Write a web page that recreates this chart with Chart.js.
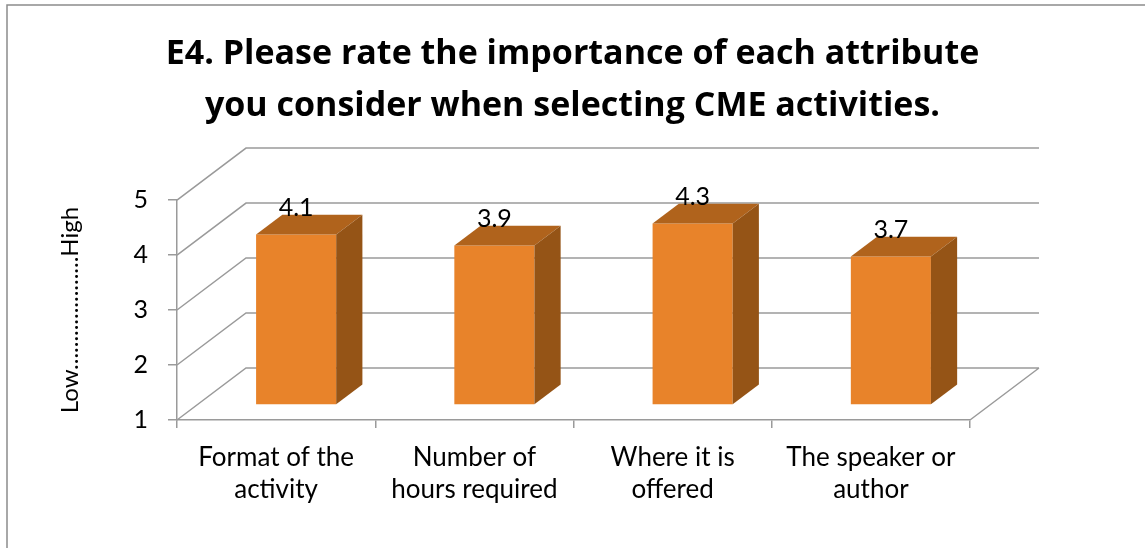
<!DOCTYPE html>
<html>
<head>
<meta charset="utf-8">
<script src="https://cdn.jsdelivr.net/npm/chart.js@4.4.1/dist/chart.umd.min.js"></script>
<style>
  html, body { margin: 0; padding: 0; background: #fff; }
</style>
</head>
<body>
<canvas id="importanceChart" width="1145" height="548"></canvas>
<script>
// data
const categories = [
    ['Format of the', 'activity'],
    ['Number of', 'hours required'],
    ['Where it is', 'offered'],
    ['The speaker or', 'author']
];
const ratings = [4.1, 3.9, 4.3, 3.7];
const yTickValues = [1, 2, 3, 4, 5];
const titleLines = [
    'E4. Please rate the importance of each attribute',
    'you consider when selecting CME activities.'
];
const yTitle = 'Low....................High';

// 3d look
const DEPTH_X = 69, DEPTH_Y = -52;      // floor depth
const BAR_FRONT = 0.29, BAR_BACK = 0.67; // where the bar sits inside the depth
const lineColor = '#9a9a9a';
const frontColor = '#e8832a';
const topColor = '#b0631c';
const sideColor = '#955416';

const box3d = {
    id: 'box3d',
    beforeDraw(chart) {
        // outer frame, only top and left edges show
        const ctx = chart.ctx;
        ctx.save();
        ctx.strokeStyle = '#8c8c8c';
        ctx.lineWidth = 1.5;
        ctx.beginPath();
        ctx.moveTo(7, chart.height);
        ctx.lineTo(7, 5);
        ctx.lineTo(chart.width, 5);
        ctx.stroke();
        ctx.restore();
    },
    beforeDatasetsDraw(chart) {
        const { ctx, chartArea: a, scales: { y } } = chart;
        ctx.save();
        ctx.strokeStyle = lineColor;
        ctx.lineWidth = 1.5;
        ctx.beginPath();
        y.ticks.forEach(t => {
            const py = y.getPixelForValue(t.value);
            ctx.moveTo(a.left, py);
            ctx.lineTo(a.left + DEPTH_X, py + DEPTH_Y);
            ctx.lineTo(a.right + DEPTH_X, py + DEPTH_Y);
        });
        ctx.moveTo(a.right, a.bottom);
        ctx.lineTo(a.right + DEPTH_X, a.bottom + DEPTH_Y);
        ctx.stroke();
        ctx.restore();
    },
    beforeDatasetDraw(chart) {
        chart.ctx.save();
        chart.ctx.translate(DEPTH_X * BAR_FRONT, DEPTH_Y * BAR_FRONT);
    },
    afterDatasetDraw(chart, args) {
        const ctx = chart.ctx;
        const bx = DEPTH_X * (BAR_BACK - BAR_FRONT);
        const by = DEPTH_Y * (BAR_BACK - BAR_FRONT);
        args.meta.data.forEach((bar, i) => {
            const { x, y, base, width } = bar.getProps(['x', 'y', 'base', 'width'], true);
            const l = x - width / 2, r = x + width / 2;

            ctx.fillStyle = topColor;
            ctx.beginPath();
            ctx.moveTo(l, y);
            ctx.lineTo(r, y);
            ctx.lineTo(r + bx, y + by);
            ctx.lineTo(l + bx, y + by);
            ctx.closePath();
            ctx.fill();

            ctx.fillStyle = sideColor;
            ctx.beginPath();
            ctx.moveTo(r, y);
            ctx.lineTo(r + bx, y + by);
            ctx.lineTo(r + bx, base + by);
            ctx.lineTo(r, base);
            ctx.closePath();
            ctx.fill();

            ctx.fillStyle = '#000';
            ctx.font = '25px Lato';
            ctx.textAlign = 'center';
            ctx.textBaseline = 'alphabetic';
            ctx.fillText(ratings[i].toFixed(1), x, y + by + 1);
        });
        ctx.restore();
    }
};

new Chart(document.getElementById('importanceChart'), {
    type: 'bar',
    data: {
        labels: categories,
        datasets: [{
            data: ratings,
            base: 1,
            backgroundColor: frontColor,
            borderWidth: 0,
            categoryPercentage: 1,
            barPercentage: 0.404,
            clip: false
        }]
    },
    options: {
        responsive: false,
        animation: false,
        layout: { padding: 0 },
        plugins: {
            legend: { display: false },
            tooltip: { enabled: false },
            title: {
                display: true,
                text: titleLines,
                color: '#000',
                font: { family: 'Open Sans', size: 34, weight: 'bold', lineHeight: 1.53 },
                padding: { top: 28, bottom: 68 }
            }
        },
        scales: {
            x: {
                grid: { drawOnChartArea: false, tickLength: 8, color: lineColor, lineWidth: 1.5 },
                border: { color: lineColor, width: 1.5 },
                ticks: {
                    color: '#000',
                    padding: 14,
                    maxRotation: 0,
                    font: { family: 'Lato', size: 26, lineHeight: 1.23 }
                },
                afterFit(scale) { scale.height = 128; }
            },
            y: {
                min: 1,
                max: 5,
                afterBuildTicks(scale) { scale.ticks = yTickValues.map(v => ({ value: v })); },
                grid: { drawOnChartArea: false, tickLength: 9, color: lineColor, lineWidth: 1.5 },
                border: { color: lineColor, width: 1.5 },
                ticks: { color: '#000', padding: 20, font: { family: 'Lato', size: 25 } },
                title: {
                    display: true,
                    text: yTitle,
                    color: '#000',
                    font: { family: 'Lato', size: 24 },
                    padding: { top: 56, bottom: 0 }
                },
                afterFit(scale) { scale.width = 177; }
            },
            spacer: {
                position: 'right',
                display: true,
                grid: { display: false },
                border: { display: false },
                ticks: { display: false },
                afterFit(scale) { scale.width = 175; }
            }
        }
    },
    plugins: [box3d]
});
</script>
</body>
</html>
